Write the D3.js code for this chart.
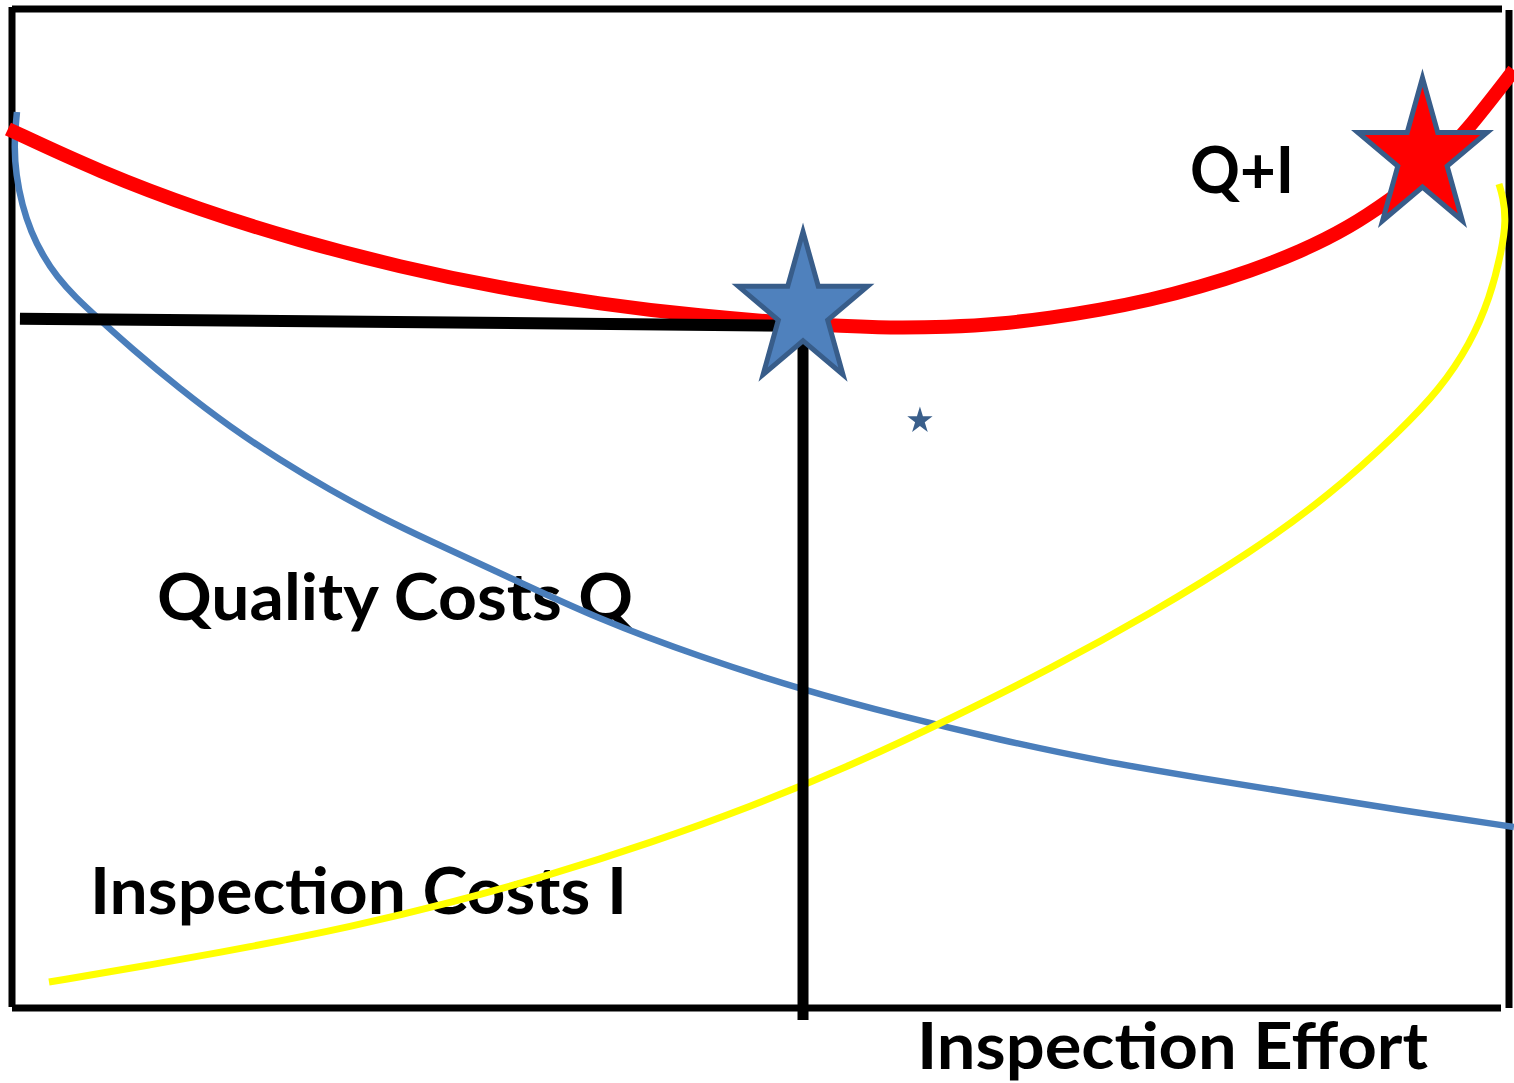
<!DOCTYPE html>
<html>
<head>
<meta charset="utf-8">
<script src="https://cdn.jsdelivr.net/npm/d3@7"></script>
<style>
  html, body { margin: 0; padding: 0; background: #ffffff; }
  svg { display: block; }
</style>
</head>
<body>
<svg id="chart" width="1514" height="1083"></svg>
<script>
// ---- data (inspection effort 0..100, cost 0..100) ----
const qualityEffort = [0.33, 0.13, 0.27, 0.67, 1.27, 2.07, 3.01, 4.21, 5.88, 7.88, 11.22, 14.56, 17.90, 21.24, 24.58, 27.92, 32.60, 39.28, 45.96, 52.84, 59.32, 66.00, 72.68, 79.36, 86.04, 92.72, 100.33];
const qualityCost   = [89.69, 86.39, 83.38, 80.38, 77.68, 75.28, 73.17, 71.17, 68.87, 66.17, 61.96, 58.16, 54.85, 51.85, 49.15, 46.75, 43.54, 38.84, 35.14, 31.83, 29.23, 26.83, 24.72, 23.02, 21.42, 19.82, 18.12];

const inspectionEffort = [2.47, 9.22, 15.90, 22.58, 29.26, 35.94, 42.62, 49.30, 55.98, 62.66, 69.34, 76.02, 82.70, 88.04, 92.72, 95.39, 97.40, 98.73, 99.53, 99.80, 99.60, 99.33];
const inspectionCost   = [2.60, 4.30, 6.11, 8.11, 10.51, 13.31, 16.52, 20.12, 24.22, 28.93, 33.93, 39.44, 45.55, 51.35, 57.76, 61.96, 66.47, 71.07, 75.88, 78.88, 81.18, 82.48];

const totalEffort = [-0.27, 5.88, 12.56, 19.24, 25.92, 32.60, 39.28, 45.96, 52.64, 57.98, 62.66, 66.00, 69.34, 72.68, 76.02, 79.36, 82.70, 86.04, 89.38, 92.05, 94.72, 97.19, 100.33];
const totalCost   = [87.99, 83.68, 79.88, 76.78, 74.17, 72.07, 70.47, 69.27, 68.47, 68.07, 68.17, 68.47, 69.07, 69.87, 70.87, 72.17, 73.77, 75.68, 78.18, 80.88, 83.88, 87.79, 93.89];

// optimum marker and guide lines
const optimum = { effort: 52.84, cost: 69.8 };
const guideH = { effortStart: 0.53, costStart: 69.0, effortEnd: 52.3, costEnd: 68.3 };
const guideV = { effort: 52.84, costTop: 66.9, costBottom: -1.2 };
const maxMarker = { effort: 94.22, cost: 85.2 };
const smallMarker = { effort: 60.65, cost: 58.8 };

const labels = ["Q+I", "Quality Costs Q", "Inspection Costs I", "Inspection Effort"];

// ---- drawing ----
const svg = d3.select("#chart");
const x = d3.scaleLinear().domain([0, 100]).range([12, 1509]);
const y = d3.scaleLinear().domain([0, 100]).range([1008, 9]);

const zip = (a, b) => a.map((v, i) => [v, b[i]]);
const line = d3.line().x(d => x(d[0])).y(d => y(d[1])).curve(d3.curveBasis);

// Labels (below curves)
const font = "Lato, 'Open Sans', sans-serif";
const labelPos = [
  { x: 1190, y: 193, w: 104 },
  { x: 157, y: 620, w: 476 },
  { x: 90, y: 914, w: 537 },
  { x: 917, y: 1069, w: 511 }
];
labels.forEach((t, i) => {
  svg.append("text")
    .attr("x", labelPos[i].x).attr("y", labelPos[i].y)
    .attr("font-family", font).attr("font-weight", 700).attr("font-size", 65)
    .attr("textLength", labelPos[i].w).attr("lengthAdjust", "spacingAndGlyphs")
    .attr("fill", "#000").text(t);
});

// Frame
const frame = svg.append("g").attr("stroke", "#000").attr("stroke-width", 7).attr("fill", "none");
frame.append("line").attr("x1", x(0)).attr("x2", x(0)).attr("y1", 7).attr("y2", 1007);     // left
frame.append("line").attr("x1", x(0)).attr("x2", 1502).attr("y1", y(100)).attr("y2", y(100)); // top
frame.append("line").attr("x1", x(100)).attr("x2", x(100)).attr("y1", 10).attr("y2", 1008); // right
frame.append("line").attr("x1", x(0)).attr("x2", 1501).attr("y1", y(0)).attr("y2", y(0));     // bottom

// Curves
svg.append("path").datum(zip(qualityEffort, qualityCost))
  .attr("d", line).attr("fill", "none").attr("stroke", "#4A7EBB").attr("stroke-width", 6.5);
svg.append("path").datum(zip(inspectionEffort, inspectionCost))
  .attr("d", line).attr("fill", "none").attr("stroke", "#FFFF00").attr("stroke-width", 7);
svg.append("path").datum(zip(totalEffort, totalCost))
  .attr("d", line).attr("fill", "none").attr("stroke", "#FF0000").attr("stroke-width", 14);

// Guide lines
svg.append("line")
  .attr("x1", x(guideH.effortStart)).attr("y1", y(guideH.costStart))
  .attr("x2", x(guideH.effortEnd)).attr("y2", y(guideH.costEnd))
  .attr("stroke", "#000").attr("stroke-width", 12);
svg.append("line")
  .attr("x1", x(guideV.effort)).attr("y1", y(guideV.costTop))
  .attr("x2", x(guideV.effort)).attr("y2", y(guideV.costBottom))
  .attr("stroke", "#000").attr("stroke-width", 11);

// Stars
function starPath(cx, cy, R, sx) {
  const r = R * 0.382;
  const pts = [];
  for (let k = 0; k < 10; k++) {
    const a = -Math.PI / 2 + k * Math.PI / 5;
    const rad = k % 2 === 0 ? R : r;
    pts.push([cx + Math.cos(a) * rad * sx, cy + Math.sin(a) * rad]);
  }
  return "M" + pts.map(p => p.join(",")).join("L") + "Z";
}
svg.append("path")
  .attr("d", starPath(x(optimum.effort), y(optimum.cost), 79, 0.86))
  .attr("fill", "#4F81BD").attr("stroke", "#385D8A").attr("stroke-width", 5).attr("stroke-linejoin", "miter");
svg.append("path")
  .attr("d", starPath(x(maxMarker.effort), y(maxMarker.cost), 79, 0.86))
  .attr("fill", "#FF0000").attr("stroke", "#385D8A").attr("stroke-width", 5).attr("stroke-linejoin", "miter");
svg.append("path")
  .attr("d", starPath(x(smallMarker.effort), y(smallMarker.cost), 14, 0.95))
  .attr("fill", "#3A5F8B");
</script>
</body>
</html>
